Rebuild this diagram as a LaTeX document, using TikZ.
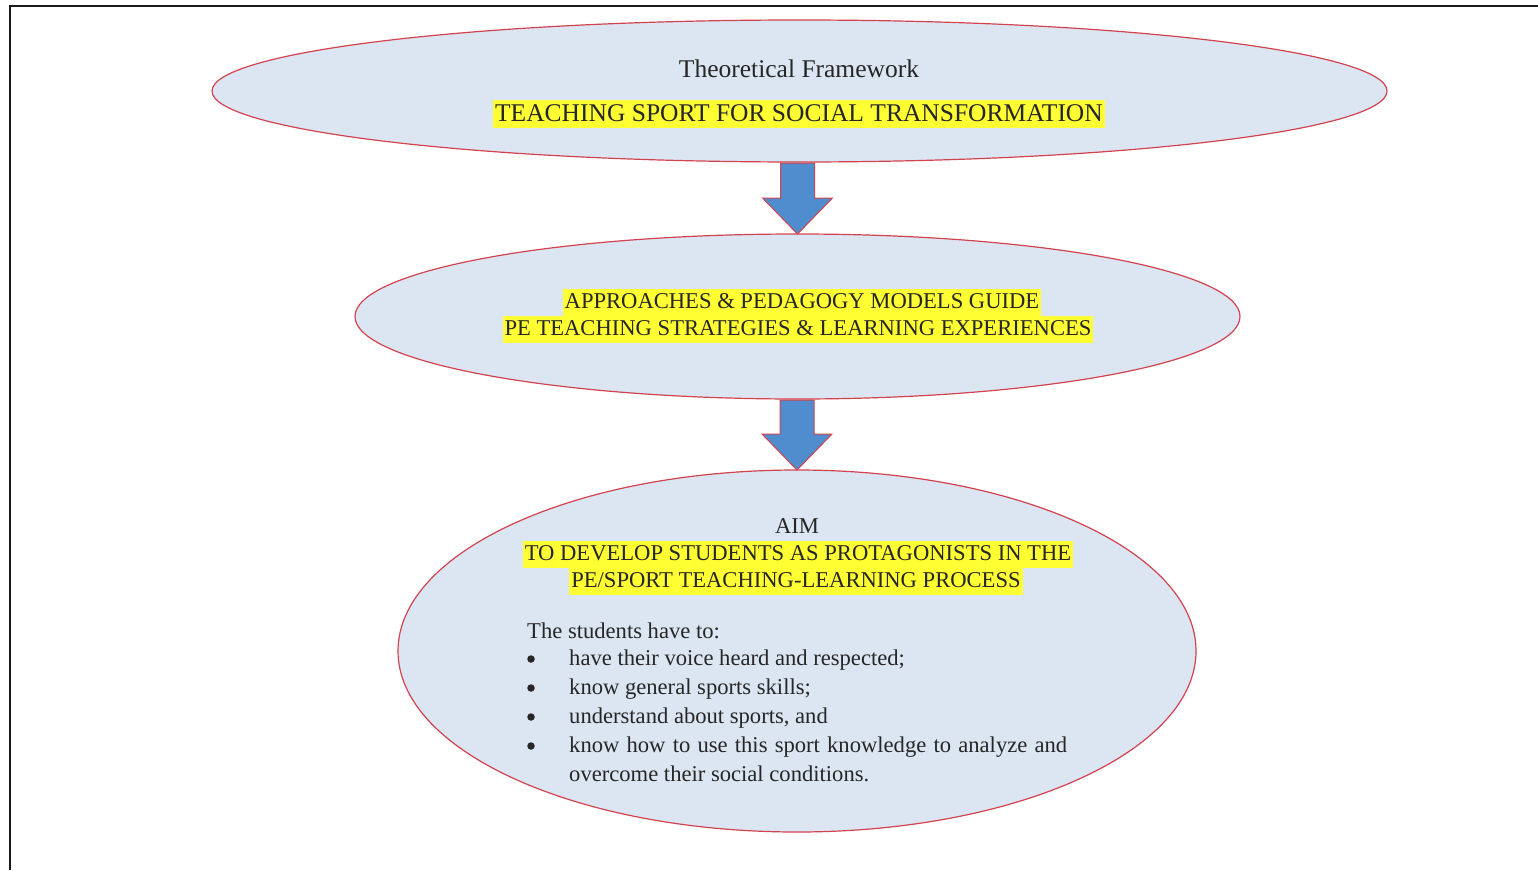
\documentclass[tikz,border=0pt]{standalone}
\usepackage{fontspec}
\setmainfont{Liberation Serif}
\usetikzlibrary{calc,shapes.geometric}
\definecolor{ellfill}{HTML}{DCE6F2}
\definecolor{ellline}{HTML}{D2424F}
\definecolor{arrfill}{HTML}{508DCE}
\definecolor{hl}{HTML}{FFFF33}
\tikzset{
  ell/.style={ellipse, draw=ellline, fill=ellfill, line width=1.2pt, inner sep=0pt, outer sep=0pt},
  txt/.style={font=\fontsize{22.6}{27}\selectfont, inner sep=0pt, text=black!85},
  bigtxt/.style={txt, font=\fontsize{25.5}{28}\selectfont},
  hlt/.style={txt, fill=hl, inner xsep=2pt, inner ysep=0.5pt, text height=19pt, text depth=6.5pt},
  bighlt/.style={bigtxt, fill=hl, inner xsep=2pt, inner ysep=0.5pt, text height=20.5pt, text depth=6pt},
  dot/.style={circle, fill=black!85, inner sep=0pt, minimum size=7.5pt},
  blockarrow/.style={draw=ellline, fill=arrfill, line width=1pt, line join=miter},
  frame/.style={line width=2.5pt, black!90}
}
\begin{document}
\begin{tikzpicture}[x=1pt,y=-1pt]
\useasboundingbox (0,0) rectangle (1538,870);
\draw[frame] (10,870) -- (10,6) -- (1538,6);

\node[ell, minimum width=1175pt, minimum height=142pt] (e1) at (799.5,91) {};
\node[ell, minimum width=885pt, minimum height=165pt] (e2) at (797.5,316.5) {};
\node[ell, minimum width=798pt, minimum height=362pt] (e3) at (797,651) {};

% block arrows
\foreach \a/\b in {e1/e2, e2/e3}{
  \draw[blockarrow]
    ($(\b.north |- \a.south)+(-17,1)$) -- ($(\b.north)+(-17,-36)$) -- ($(\b.north)+(-35,-36)$)
    -- (\b.north) -- ($(\b.north)+(35,-36)$) -- ($(\b.north)+(17,-36)$)
    -- ($(\b.north |- \a.south)+(17,1)$) -- cycle;
}

\node[bigtxt, anchor=base] (t1) at (799,77) {Theoretical Framework};
\node[bighlt, anchor=base] (t2) at (799,121) {TEACHING SPORT FOR SOCIAL TRANSFORMATION};

\node[hlt, anchor=base] (t3) at (802,308.5) {APPROACHES \& PEDAGOGY MODELS GUIDE};
\node[hlt, anchor=base] (t4) at (798,335.5) {PE TEACHING STRATEGIES \& LEARNING EXPERIENCES};

\node[txt, anchor=base] (t5) at (797,533.5) {AIM};
\node[hlt, anchor=base] (t6) at (798,560.5) {TO DEVELOP STUDENTS AS PROTAGONISTS IN THE};
\node[hlt, anchor=base] (t7) at (796,587.5) {PE/SPORT TEACHING-LEARNING PROCESS};

\node[txt, anchor=base west] (s0) at (527,638.5) {The students have to:};
\foreach \y/\t [count=\i] in {665.5/{have their voice heard and respected;}, 694.5/{know general sports skills;}, 723.5/{understand about sports, and}}{
  \node[dot] (b\i) at (531,\y-6.5) {};
  \node[txt, anchor=base west] (s\i) at (569,\y) {\t};
}
\node[dot] (b4) at (531,746) {};
\node[txt, anchor=base west] (s4) at (569,752.5) {\makebox[498pt][s]{know how to use this sport knowledge to analyze and}};
\node[txt, anchor=base west] (s5) at (569,781.5) {overcome their social conditions.};
\end{tikzpicture}
\end{document}
